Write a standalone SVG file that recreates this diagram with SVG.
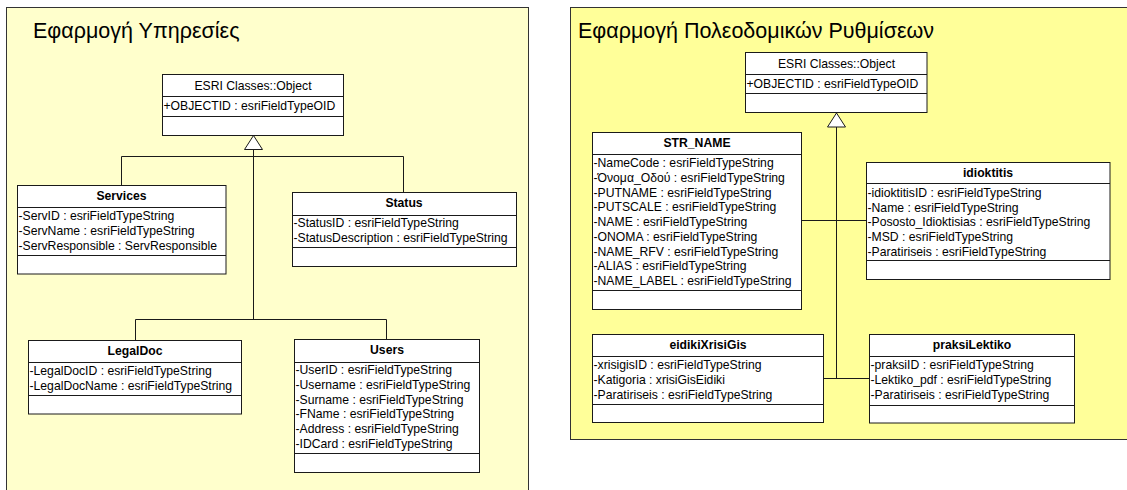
<svg xmlns="http://www.w3.org/2000/svg" width="1127" height="490" viewBox="0 0 1127 490">
<style>
text{font-family:"Liberation Sans",Arial,sans-serif;fill:#000}
.ptitle{font-size:21.5px}
.cname{font-size:12.2px;font-weight:bold;text-anchor:middle}
.hname{font-size:12.2px;text-anchor:middle}
.attr{font-size:12.2px}
.box{fill:#fff;stroke:#1a1a1a;stroke-width:1}
.div{stroke:#1a1a1a;stroke-width:1}
.conn{fill:none;stroke:#1a1a1a;stroke-width:1}
.tri{fill:#fff;stroke:#1a1a1a;stroke-width:1}
</style>
<rect x="6.5" y="7.5" width="522" height="500" fill="#FFFFCC" stroke="#333" stroke-width="1"/>
<rect x="570.5" y="7.5" width="570" height="432" fill="#FFFF99" stroke="#333" stroke-width="1"/>
<text class="ptitle" x="33" y="38">Εφαρμογή Υπηρεσίες</text>
<text class="ptitle" x="578" y="37.5">Εφαρμογή Πολεοδομικών Ρυθμίσεων</text>

<g id="connectors">
<path class="conn" d="M253.5 149.5V319.5M121.5 185V156.5H403.5V192.5M135.5 340V319.5H386.5V339.5"/>
<polygon class="tri" points="253.5,135.5 244.5,149.5 262.5,149.5"/>
<path class="conn" d="M836.5 127V378.5M801.5 220.5H866M823.5 378.5H869"/>
<polygon class="tri" points="836.5,113 827.5,127 845.5,127"/>
</g>

<g id="esri-left">
<rect class="box" x="162.5" y="74.5" width="181" height="61"/>
<line class="div" x1="162.5" y1="96.5" x2="343.5" y2="96.5"/>
<line class="div" x1="162.5" y1="116.5" x2="343.5" y2="116.5"/>
<text class="hname" x="253" y="89.5">ESRI Classes::Object</text>
<text class="attr" x="163.5" y="110">+OBJECTID : esriFieldTypeOID</text>
</g>

<g id="services">
<rect class="box" x="17.5" y="185.5" width="208.5" height="88.5"/>
<line class="div" x1="17.5" y1="207.5" x2="226" y2="207.5"/>
<line class="div" x1="17.5" y1="255.5" x2="226" y2="255.5"/>
<text class="cname" x="121.5" y="200.3">Services</text>
<text class="attr" x="18.5" y="220.3">-ServID : esriFieldTypeString</text>
<text class="attr" x="18.5" y="235">-ServName : esriFieldTypeString</text>
<text class="attr" x="18.5" y="249.6">-ServResponsible : ServResponsible</text>
</g>

<g id="status">
<rect class="box" x="292.5" y="192.5" width="224" height="74"/>
<line class="div" x1="292.5" y1="215.5" x2="516.5" y2="215.5"/>
<line class="div" x1="292.5" y1="247.5" x2="516.5" y2="247.5"/>
<text class="cname" x="404" y="207.3">Status</text>
<text class="attr" x="293.5" y="227.3">-StatusID : esriFieldTypeString</text>
<text class="attr" x="293.5" y="242">-StatusDescription : esriFieldTypeString</text>
</g>

<g id="legaldoc">
<rect class="box" x="28.5" y="340.5" width="213" height="73.5"/>
<line class="div" x1="28.5" y1="362.5" x2="241.5" y2="362.5"/>
<line class="div" x1="28.5" y1="395.5" x2="241.5" y2="395.5"/>
<text class="cname" x="135" y="355">LegalDoc</text>
<text class="attr" x="29.5" y="375">-LegalDocID : esriFieldTypeString</text>
<text class="attr" x="29.5" y="390">-LegalDocName : esriFieldTypeString</text>
</g>

<g id="users">
<rect class="box" x="294.5" y="339.5" width="185" height="133"/>
<line class="div" x1="294.5" y1="362.5" x2="479.5" y2="362.5"/>
<line class="div" x1="294.5" y1="453.5" x2="479.5" y2="453.5"/>
<text class="cname" x="387" y="354">Users</text>
<text class="attr" x="295.5" y="374">-UserID : esriFieldTypeString</text>
<text class="attr" x="295.5" y="388.8">-Username : esriFieldTypeString</text>
<text class="attr" x="295.5" y="403.6">-Surname : esriFieldTypeString</text>
<text class="attr" x="295.5" y="418.4">-FName : esriFieldTypeString</text>
<text class="attr" x="295.5" y="433.2">-Address : esriFieldTypeString</text>
<text class="attr" x="295.5" y="448">-IDCard : esriFieldTypeString</text>
</g>

<g id="esri-right">
<rect class="box" x="745.5" y="52.5" width="181.5" height="60"/>
<line class="div" x1="745.5" y1="74.5" x2="927" y2="74.5"/>
<line class="div" x1="745.5" y1="93.5" x2="927" y2="93.5"/>
<text class="hname" x="836.5" y="67.5">ESRI Classes::Object</text>
<text class="attr" x="746.5" y="88">+OBJECTID : esriFieldTypeOID</text>
</g>

<g id="str_name">
<rect class="box" x="592.5" y="132.5" width="209" height="177"/>
<line class="div" x1="592.5" y1="154.5" x2="801.5" y2="154.5"/>
<line class="div" x1="592.5" y1="290.5" x2="801.5" y2="290.5"/>
<text class="cname" x="697" y="147">STR_NAME</text>
<text class="attr" x="593.5" y="167.3">-NameCode : esriFieldTypeString</text>
<text class="attr" x="593.5" y="182">-Όνομα_Οδού : esriFieldTypeString</text>
<text class="attr" x="593.5" y="196.7">-PUTNAME : esriFieldTypeString</text>
<text class="attr" x="593.5" y="211.4">-PUTSCALE : esriFieldTypeString</text>
<text class="attr" x="593.5" y="226.1">-NAME : esriFieldTypeString</text>
<text class="attr" x="593.5" y="240.8">-ONOMA : esriFieldTypeString</text>
<text class="attr" x="593.5" y="255.5">-NAME_RFV : esriFieldTypeString</text>
<text class="attr" x="593.5" y="270.2">-ALIAS : esriFieldTypeString</text>
<text class="attr" x="593.5" y="284.9">-NAME_LABEL : esriFieldTypeString</text>
</g>

<g id="idioktitis">
<rect class="box" x="866.5" y="162.5" width="243.5" height="117"/>
<line class="div" x1="866.5" y1="183.5" x2="1110" y2="183.5"/>
<line class="div" x1="866.5" y1="260.5" x2="1110" y2="260.5"/>
<text class="cname" x="988" y="176.8">idioktitis</text>
<text class="attr" x="867.5" y="197">-idioktitisID : esriFieldTypeString</text>
<text class="attr" x="867.5" y="211.7">-Name : esriFieldTypeString</text>
<text class="attr" x="867.5" y="226.4">-Pososto_Idioktisias : esriFieldTypeString</text>
<text class="attr" x="867.5" y="241.1">-MSD : esriFieldTypeString</text>
<text class="attr" x="867.5" y="255.5">-Paratiriseis : esriFieldTypeString</text>
</g>

<g id="eidikixrisigis">
<rect class="box" x="592.5" y="334.5" width="231" height="88"/>
<line class="div" x1="592.5" y1="356.5" x2="823.5" y2="356.5"/>
<line class="div" x1="592.5" y1="404.5" x2="823.5" y2="404.5"/>
<text class="cname" x="708" y="349.3">eidikiXrisiGis</text>
<text class="attr" x="593.5" y="369.3">-xrisigisID : esriFieldTypeString</text>
<text class="attr" x="593.5" y="384">-Katigoria : xrisiGisEidiki</text>
<text class="attr" x="593.5" y="398.5">-Paratiriseis : esriFieldTypeString</text>
</g>

<g id="praksilektiko">
<rect class="box" x="869.5" y="334.5" width="205" height="88.5"/>
<line class="div" x1="869.5" y1="356.5" x2="1074.5" y2="356.5"/>
<line class="div" x1="869.5" y1="405.5" x2="1074.5" y2="405.5"/>
<text class="cname" x="972" y="349.3">praksiLektiko</text>
<text class="attr" x="870.5" y="369.3">-praksiID : esriFieldTypeString</text>
<text class="attr" x="870.5" y="384">-Lektiko_pdf : esriFieldTypeString</text>
<text class="attr" x="870.5" y="398.7">-Paratiriseis : esriFieldTypeString</text>
</g>
</svg>
